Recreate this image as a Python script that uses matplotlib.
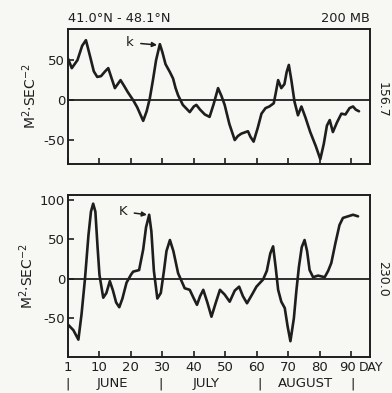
import numpy as np
import matplotlib
matplotlib.use('Agg')
import matplotlib.pyplot as plt
from matplotlib.transforms import ScaledTranslation

# upper panel, 41.0N-48.1N, 200 mb
day_top = [0, 1.2, 3, 4.5, 5.7, 7, 8.2, 9.3, 10.5, 11.8, 12.8, 13.8, 14.9, 15.8, 16.7,
           17.8, 19, 20.7, 22, 23.9, 25, 26, 27, 28, 29.2, 30, 31, 32.4, 33.4, 34.2,
           35, 36.5, 38.7, 40, 40.8, 42, 43.5, 45, 46.3, 47.7, 48.8, 49.8, 51.3, 53,
           54, 55.1, 57.2, 58, 59, 60.3, 61.5, 62.8, 64, 65.4, 66, 66.8, 67.8, 68.8,
           69.5, 70.2, 71, 72, 73.1, 74.2, 75.5, 77, 78.8, 80.2, 81.3, 82.3, 83.2,
           84.2, 85.5, 86.9, 88.2, 89.5, 90.6, 91.5, 92.5]
val_top = [52, 40, 50, 68, 75, 55, 36, 29, 30, 36, 40, 28, 15, 20, 25,
           18, 10, 0, -9, -26, -14, 2, 25, 50, 70, 60, 45, 35, 27, 15,
           6, -6, -15, -8, -6, -12, -18, -21, -5, 15, 5, -6, -30, -50,
           -45, -42, -39, -46, -52, -35, -17, -10, -8, -4, 8, 25, 15, 20,
           35, 44, 25, -2, -19, -8, -22, -40, -58, -74, -55, -32, -25,
           -40, -28, -17, -18, -10, -8, -12, -14]

# lower panel
day_bot = [0, 1.7, 3.3, 4.3, 5.4, 6.5, 7.3, 8, 8.7, 9.4, 10, 11.2, 12.2, 13.3, 14.3,
           15.3, 16.3, 17.3, 18.6, 20, 20.7, 22.6, 23.9, 24.8, 25.8, 26.5, 27.3,
           28.4, 29.5, 30.5, 31.3, 32.4, 33.5, 35, 37.1, 38.7, 40, 41, 42, 43, 44.3,
           45.6, 47, 48.3, 49.8, 51.4, 53, 54.4, 55.6, 56.9, 58.5, 59.9, 62, 63.2,
           64.3, 65.2, 66, 66.8, 67.8, 68.9, 69.8, 70.7, 71.8, 72.6, 73.4, 74.3,
           75.2, 76, 76.8, 77.9, 79.5, 81.6, 82.7, 83.7, 85, 86.3, 87.4, 89, 90.6, 92.2]
val_bot = [-58, -65, -77, -45, 0, 55, 85, 95, 85, 40, 5, -24, -18, -3, -15,
           -30, -36, -25, -5, 5, 9, 11, 37, 65, 81, 60, 10,
           -25, -18, 10, 35, 49, 35, 7, -12, -14, -25, -33, -22, -14, -30,
           -48, -30, -14, -20, -29, -15, -10, -22, -31, -20, -10, -1, 10,
           32, 41, 15, -14, -29, -37, -60, -79, -50, -15, 15, 40,
           49, 35, 11, 2, 4, 2, 10, 20, 45, 68, 77, 79, 81, 79]

xticks = [0, 10, 20, 30, 40, 50, 60, 70, 80, 90]
xticklabels = ['1', '10', '20', '30', '40', '50', '60', '70', '80', '90']
months = ['JUNE', 'JULY', 'AUGUST']
month_mid = [14, 44, 75.5]
month_bars = [0, 29.5, 61, 90.5]

ink = '#1e1e1e'
bg = '#f7f7f4'
plt.rcParams['font.family'] = ['DejaVu Sans']

fig = plt.figure(figsize=(3.92, 3.93), dpi=100, facecolor=bg)
ax1 = fig.add_axes([68/392, 1-164/393, 302/392, 135/393], facecolor=bg)
ax2 = fig.add_axes([68/392, 1-357/393, 302/392, 162/393], facecolor=bg)

for ax, d, v, yl, yt, lab in [(ax1, day_top, val_top, (-80, 89), [-50, 0, 50], '156.7'),
                              (ax2, day_bot, val_bot, (-99, 106), [-50, 0, 50, 100], '230.0')]:
    ax.plot(d, v, color=ink, lw=1.9, solid_joinstyle='round', solid_capstyle='round')
    ax.axhline(0, color=ink, lw=1.3)
    ax.set_xlim(0, 96)
    ax.set_ylim(*yl)
    ax.set_xticks(xticks)
    ax.set_yticks(yt)
    ax.set_yticklabels([str(t) if t >= 0 else '-' + str(-t) for t in yt])
    ax.tick_params(direction='in', length=4, width=1.2, colors=ink, labelsize=9.5, pad=2)
    for s in ax.spines.values():
        s.set_linewidth(1.4)
        s.set_color(ink)
    ax.text(1.02, 0, lab, transform=ax.get_yaxis_transform(), rotation=270,
            ha='left', va='center', fontsize=9, color=ink)
    ax.set_ylabel('M$^2$·SEC$^{-2}$', fontsize=10, color=ink, labelpad=3)

ax1.set_xticklabels([])
ax2.set_xticklabels(xticklabels)
ax2.tick_params(axis='x', pad=3)
# the last label sits a little left, next to "DAY"
last = ax2.get_xticklabels()[-1]
last.set_transform(last.get_transform() + ScaledTranslation(-4/100, 0, fig.dpi_scale_trans))

ax1.annotate('k', xy=(28.3, 69), xytext=(19.7, 72), fontsize=9.5, color=ink,
             ha='center', va='center',
             arrowprops=dict(arrowstyle='-|>', color=ink, lw=1.1, mutation_scale=7,
                             shrinkA=3, shrinkB=0))
ax2.annotate('K', xy=(25.1, 81), xytext=(17.5, 85), fontsize=9.5, color=ink,
             ha='center', va='center',
             arrowprops=dict(arrowstyle='-|>', color=ink, lw=1.1, mutation_scale=7,
                             shrinkA=3, shrinkB=0))

fig.text(68/392, 1-18/393, '41.0°N - 48.1°N', fontsize=9.3, color=ink, ha='left', va='center')
fig.text(370/392, 1-18/393, '200 MB', fontsize=9.3, color=ink, ha='right', va='center')
ax2.text(0.962, -0.064, 'DAY', transform=ax2.transAxes, fontsize=9, color=ink,
         ha='left', va='center')

tr = ax2.get_xaxis_transform()
for m, x in zip(months, month_mid):
    ax2.text(x, -0.165, m, transform=tr, fontsize=9.5, color=ink, ha='center', va='center')
for x in month_bars:
    ax2.text(x, -0.165, '|', transform=tr, fontsize=9.5, color=ink, ha='center', va='center')

fig.savefig('out.png', dpi=100, facecolor=bg)
